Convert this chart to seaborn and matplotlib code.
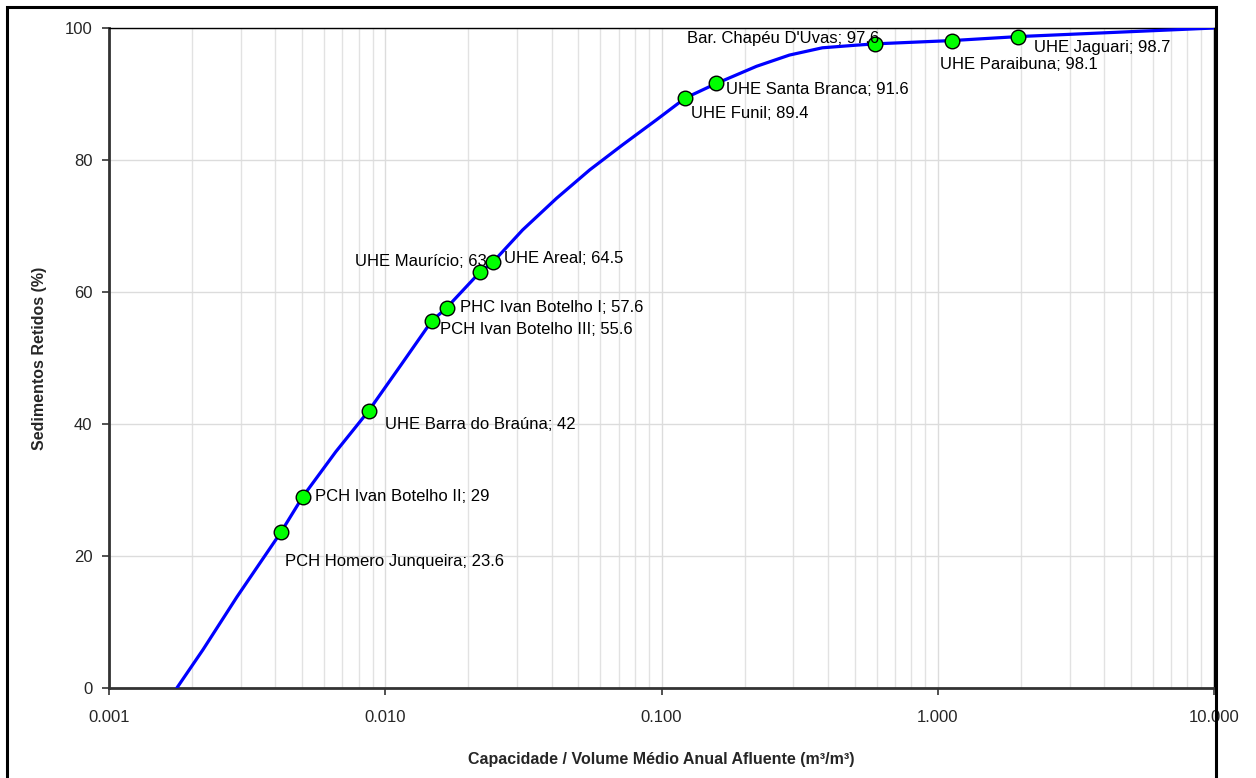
import numpy as np
import pandas as pd
import matplotlib
matplotlib.use("Agg")
import matplotlib.pyplot as plt
import matplotlib.ticker as mticker
from matplotlib.patches import Rectangle
import seaborn as sns

# reservoirs: capacity / mean annual inflow (m3/m3) and trapped sediment (%)
names = ["PCH Homero Junqueira", "PCH Ivan Botelho II", "UHE Barra do Braúna",
         "PCH Ivan Botelho III", "PHC Ivan Botelho I", "UHE Maurício", "UHE Areal",
         "UHE Funil", "UHE Santa Branca", "Bar. Chapéu D'Uvas", "UHE Paraibuna",
         "UHE Jaguari"]
label_values = ["23.6", "29", "42", "55.6", "57.6", "63", "64.5",
                "89.4", "91.6", "97.6", "98.1", "98.7"]
capacity = [0.00419, 0.00503, 0.00871, 0.01472, 0.01667, 0.0220, 0.0245,
            0.122, 0.158, 0.594, 1.128, 1.955]
retained = [23.6, 29.0, 42.0, 55.6, 57.6, 63.0, 64.5,
            89.4, 91.6, 97.6, 98.1, 98.7]

# envelope curve
curve_x = [0.00176, 0.002188, 0.002904, 0.00419, 0.00503, 0.006622, 0.00871,
           0.01138, 0.01472, 0.01667, 0.0220, 0.0245, 0.03141, 0.04169, 0.05495,
           0.07228, 0.09594, 0.122, 0.158, 0.2208, 0.2904, 0.3819, 0.507, 0.594,
           1.128, 1.955, 10.0]
curve_y = [0.0, 5.8, 13.8, 23.6, 29.0, 35.8, 42.0,
           48.9, 55.6, 57.6, 63.0, 64.5, 69.4, 74.2, 78.5,
           82.3, 86.1, 89.4, 91.6, 94.2, 95.9, 97.0, 97.4, 97.6,
           98.1, 98.7, 100.0]

# label offsets in points (dx, dy) and horizontal alignment
offsets = [(3, -21), (9, 0), (12, -10), (6, -6), (10, 0), (5, 8), (8, 3),
           (4, -11), (7, -4), (3, 4), (-9, -17), (11, -8)]
aligns = ["left", "left", "left", "left", "left", "right", "left",
          "left", "left", "right", "left", "left"]

points = pd.DataFrame({"capacity": capacity, "retained": retained})
curve = pd.DataFrame({"x": curve_x, "y": curve_y})

sns.set_theme(style="white")
plt.rcParams["font.family"] = ["Liberation Sans", "DejaVu Sans"]

fig = plt.figure(figsize=(12.56, 7.78), dpi=100)
ax = fig.add_axes([0.0868, 0.1157, 0.8798, 0.8483])

ax.set_xscale("log")
sns.lineplot(data=curve, x="x", y="y", sort=False, color="#0000ff", linewidth=2.3,
             ax=ax, zorder=3)
ax.lines[-1].set_solid_joinstyle("round")
sns.scatterplot(data=points, x="capacity", y="retained", color="#00ff00",
                edgecolor="black", linewidth=1.0, s=110, ax=ax, zorder=4)

for name, val, x, y, (dx, dy), ha in zip(names, label_values, capacity, retained,
                                         offsets, aligns):
    ax.annotate(f"{name}; {val}", (x, y), xytext=(dx, dy), textcoords="offset points",
                ha=ha, va="center", fontsize=12, color="black", zorder=5)

ax.set_xlim(0.001, 10)
ax.set_ylim(0, 100)
ax.set_yticks([0, 20, 40, 60, 80, 100])
ax.xaxis.set_major_locator(mticker.LogLocator(base=10, numticks=10))
ax.xaxis.set_minor_locator(mticker.LogLocator(base=10, subs=np.arange(2, 10), numticks=50))
ax.xaxis.set_major_formatter(mticker.FuncFormatter(lambda v, p: f"{v:.3f}"))
ax.xaxis.set_minor_formatter(mticker.NullFormatter())

ax.grid(True, which="major", axis="both", color="#dcdcdc", linewidth=1.0)
ax.grid(True, which="minor", axis="x", color="#e2e2e2", linewidth=1.0)
ax.set_axisbelow(True)

ax.tick_params(axis="both", which="major", direction="out", length=5, width=1.2,
               color="#333333", labelsize=12, bottom=True, left=True)
ax.tick_params(axis="x", which="major", pad=11)
ax.tick_params(axis="y", which="major", pad=7)
ax.tick_params(axis="x", which="minor", length=0)

for side in ["left", "bottom"]:
    ax.spines[side].set_color("#333333")
    ax.spines[side].set_linewidth(2)
for side in ["top", "right"]:
    ax.spines[side].set_color("black")
    ax.spines[side].set_linewidth(1)

ax.set_xlabel("Capacidade / Volume Médio Anual Afluente (m³/m³)", fontsize=11.5,
              fontweight="bold", labelpad=19)
ax.set_ylabel("Sedimentos Retidos (%)", fontsize=11.5, fontweight="bold", labelpad=13)

# outer frame of the chart area
fig.add_artist(Rectangle((7 / 1256, -0.05), (1216 - 7) / 1256, 1.05 - 7 / 778,
                         transform=fig.transFigure, fill=False, edgecolor="black",
                         linewidth=2.2))

fig.savefig("out.png", dpi=100)
